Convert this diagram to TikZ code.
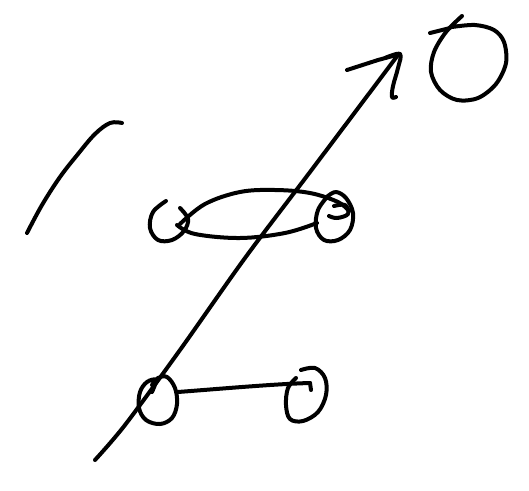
\documentclass[tikz,border=0pt]{standalone}
\begin{document}
\begin{tikzpicture}[x=0.75pt,y=-0.75pt,
  ink/.style={line width=3pt,line cap=round,line join=round,black}]
\useasboundingbox (0,0) rectangle (529,490);
% left slash
\draw[ink] plot[smooth,tension=0.6] coordinates {(27,233) (42,205) (60,177) (78,154) (95,134) (110,123) (122,123)};
% long arrow shaft
\draw[ink] plot[smooth,tension=0.5] coordinates {(95,460) (125,425) (180,350) (245,258) (310,172) (398,55)};
% arrow head
\draw[ink] (347,70) -- (378,60) -- (400,54);
\draw[ink] plot[smooth,tension=0.6] coordinates {(385,58) (400,54) (398,68) (393,86) (392,97) (396,97)};
% theta-like circle at top right
\draw[ink] (430,33) -- (450,28);
\draw[ink] plot[smooth,tension=0.55] coordinates {(462,16) (446,32) (434,52) (431,72) (440,90) (457,100) (478,98) (496,84) (506,63) (504,42) (494,30) (475,25) (452,27)};
% upper pair
\draw[ink] plot[smooth,tension=0.6] coordinates {(166,201) (153,212) (150,228) (158,240) (172,240) (184,231) (188,219) (180,208)};
\draw[ink] plot[smooth,tension=0.6] coordinates {(334,206) (345,205) (348,214) (337,218) (329,216)};
\draw[ink] plot[smooth,tension=0.6] coordinates {(328,196) (318,210) (316,228) (324,240) (338,240) (350,230) (353,213) (346,198) (336,192) (328,196)};
% ellipse-shaped link
\draw[ink] plot[smooth,tension=0.6] coordinates {(180,224) (205,204) (240,192) (275,190) (310,193) (338,202) (349,211)};
\draw[ink] plot[smooth,tension=0.6] coordinates {(177,225) (195,234) (240,238) (285,233) (317,223)};
% lower pair
\draw[ink] plot[smooth,tension=0.6] coordinates {(152,385) (158,378) (167,377) (175,388) (177,404) (172,418) (160,424) (146,420) (139,408) (140,392) (147,382) (156,380) (152,392)};
\draw[ink] (178,392) .. controls (230,388) and (275,384) .. (310,383);
\draw[ink] (310,383) -- (311,390);
\draw[ink] plot[smooth,tension=0.6] coordinates {(301,370) (315,368) (325,378) (326,395) (318,412) (303,421) (290,419) (286,405) (288,388) (296,378)};
\end{tikzpicture}
\end{document}
